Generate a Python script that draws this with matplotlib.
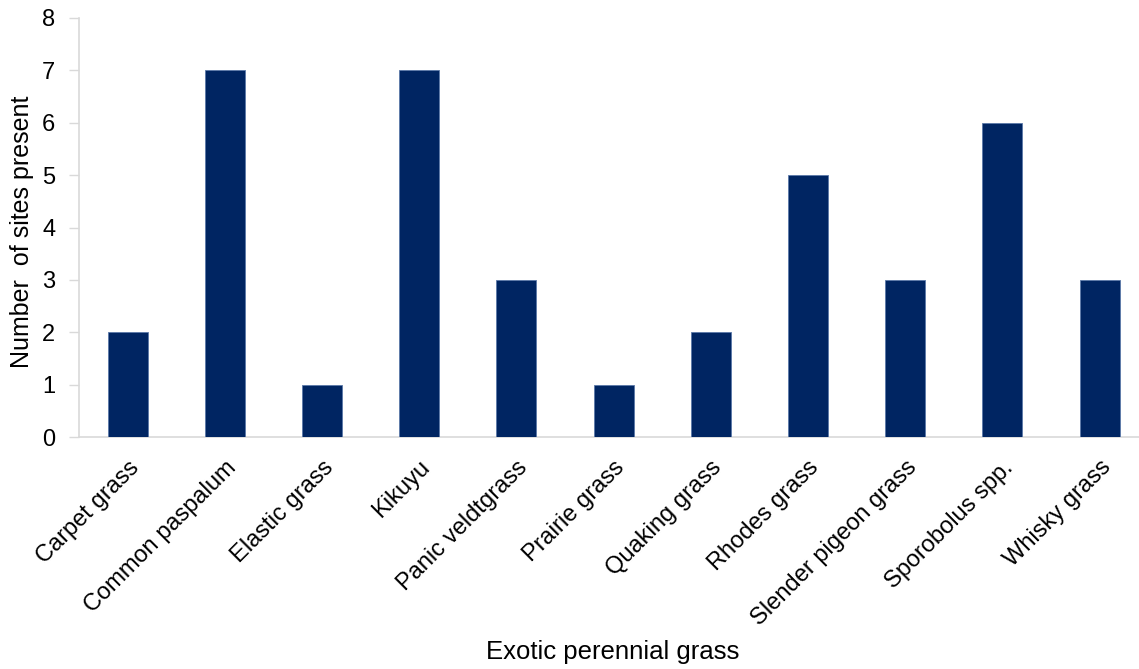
import matplotlib
matplotlib.use("Agg")
import matplotlib.pyplot as plt
from matplotlib.transforms import ScaledTranslation

grasses = [
    "Carpet grass", "Common paspalum", "Elastic grass", "Kikuyu",
    "Panic veldtgrass", "Prairie grass", "Quaking grass", "Rhodes grass",
    "Slender pigeon grass", "Sporobolus spp.", "Whisky grass",
]
sites = [2, 7, 1, 7, 3, 1, 2, 5, 3, 6, 3]
y_ticks = [0, 1, 2, 3, 4, 5, 6, 7, 8]

plt.rcParams["font.family"] = ["Liberation Sans", "DejaVu Sans"]

W, H = 1139, 669
fig = plt.figure(figsize=(W / 100, H / 100), dpi=100)
# axes box in pixels: left 79, top 18, bottom 437, 97.2 px per category
ax_w = 11 * 97.2
ax = fig.add_axes([79 / W, (H - 437) / H, ax_w / W, (437 - 18) / H])

ax.bar(range(len(grasses)), sites, width=0.41, color="#002562",
       edgecolor="#5a78a8", linewidth=0.6, zorder=3)

ax.set_xlim(-0.5, len(grasses) - 0.5)
ax.set_ylim(0, 8)
ax.set_yticks(y_ticks)
ax.set_xticks(range(len(grasses)))
ax.set_xticklabels(grasses, rotation=45, ha="right", rotation_mode="anchor",
                   fontsize=17)
shift = ScaledTranslation(-5 / 100, 0, fig.dpi_scale_trans)
for lbl in ax.get_xticklabels():
    lbl.set_transform(lbl.get_transform() + shift)
ax.tick_params(axis="x", length=0, pad=14)
ax.tick_params(axis="y", length=7, width=1, color="#d9d9d9", labelsize=17, pad=10)

for side in ["top", "right"]:
    ax.spines[side].set_visible(False)
ax.spines["left"].set_color("#d9d9d9")
ax.spines["bottom"].set_color("#d9d9d9")
ax.spines["left"].set_linewidth(1.2)
ax.spines["bottom"].set_linewidth(1.2)

ax.set_ylabel("Number  of sites present", fontsize=18)
ax.yaxis.set_label_coords(-(79 - 34) / ax_w, 0.49)
fig.text(613 / W, 1 - 652 / H, "Exotic perennial grass", fontsize=18.5,
         ha="center", va="center")

fig.savefig("out.png", dpi=100)
